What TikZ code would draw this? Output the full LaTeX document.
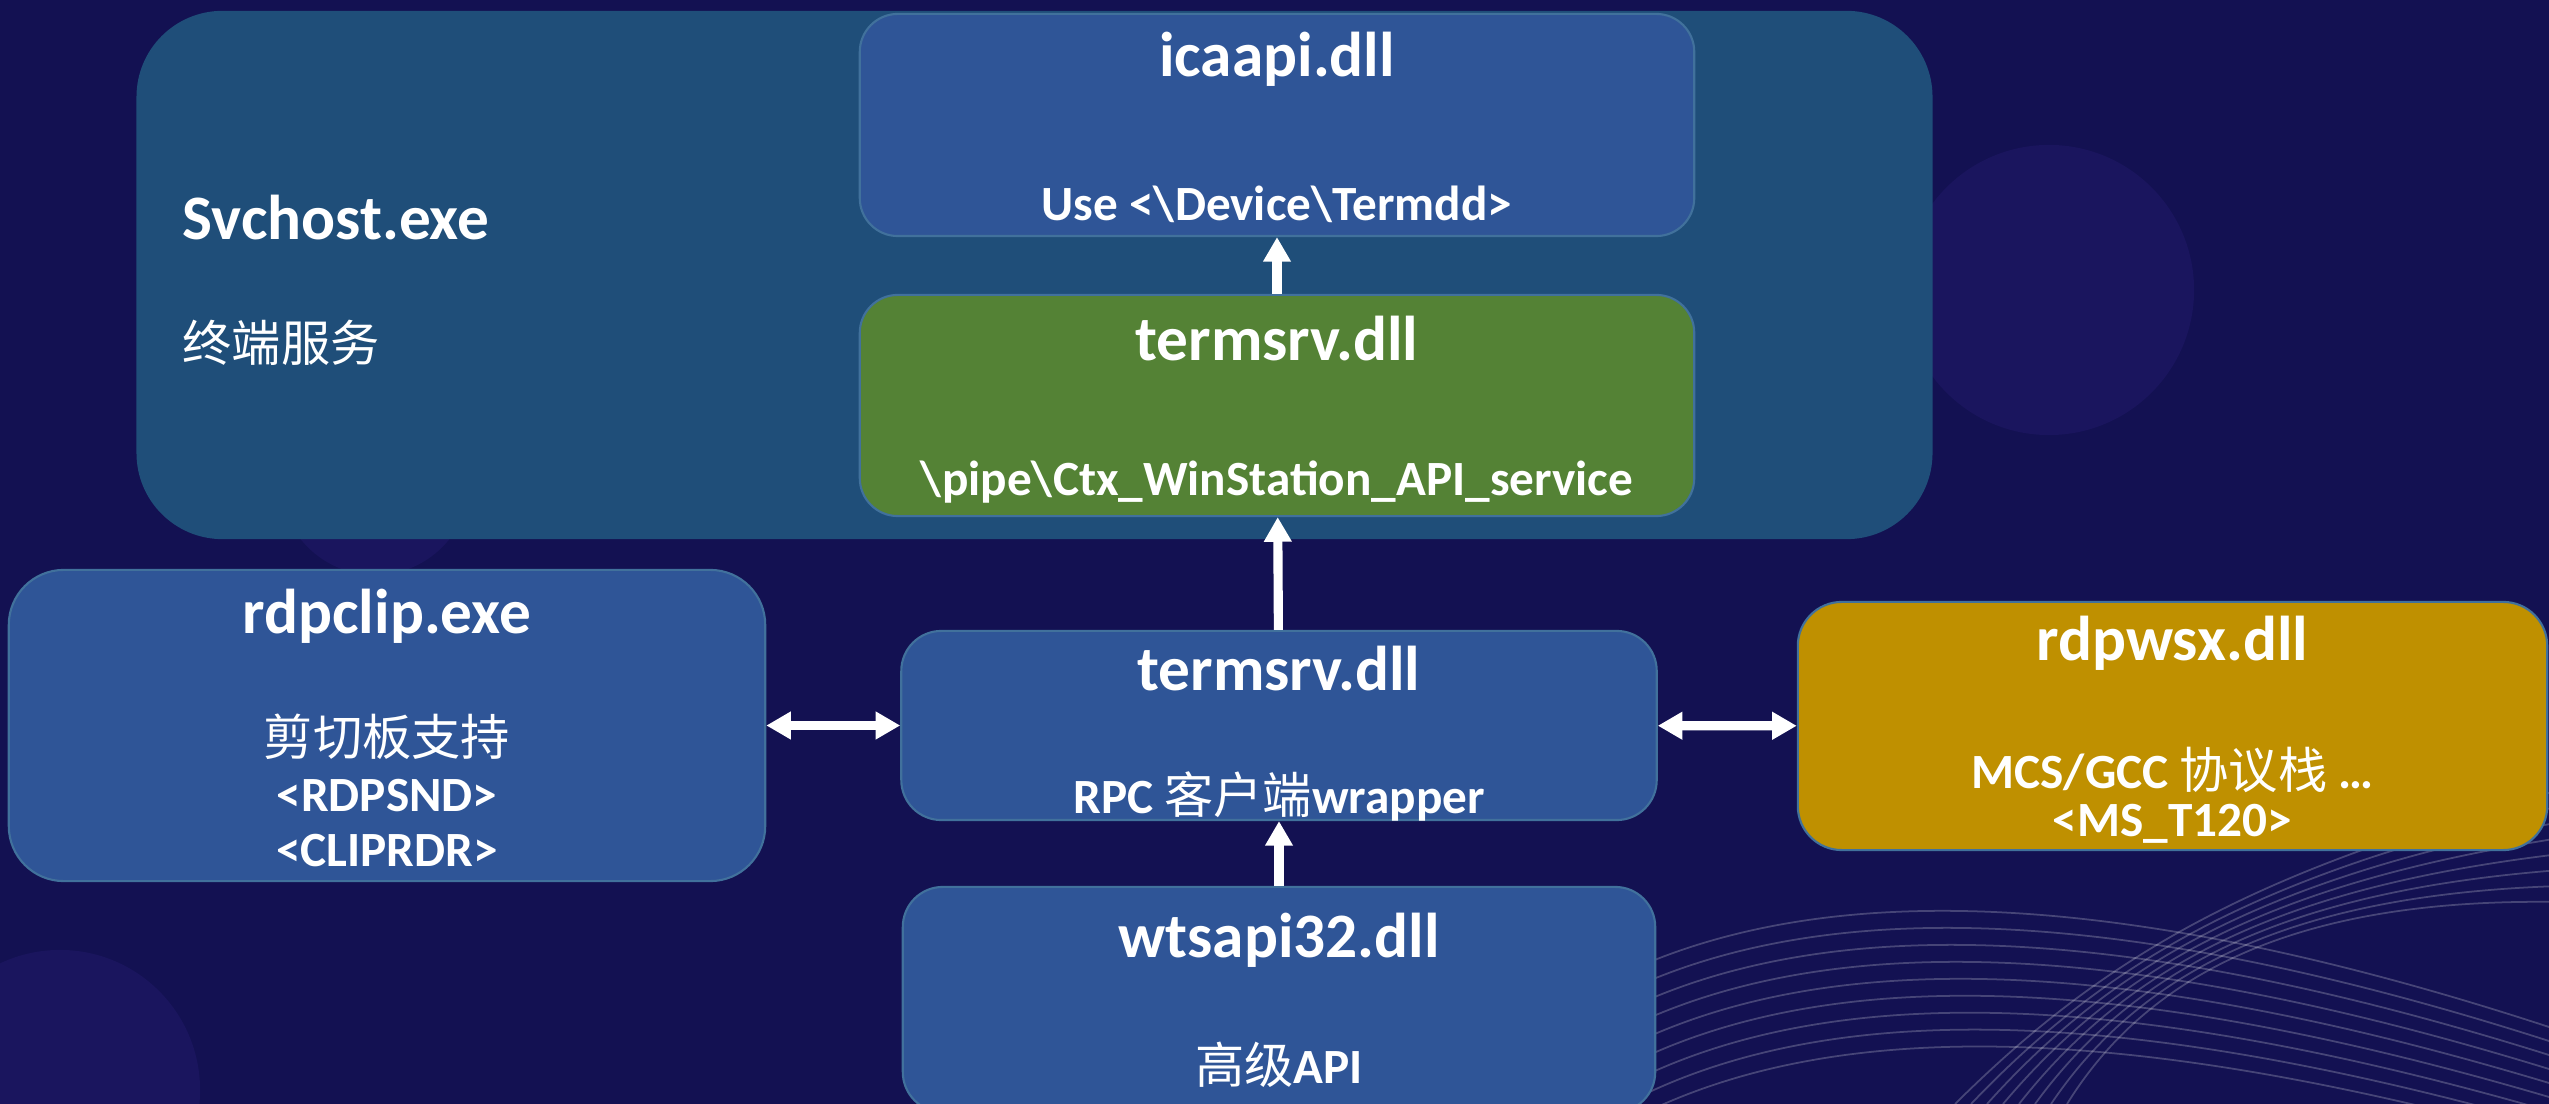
\documentclass[tikz,border=0pt]{standalone}
\usepackage{fontspec}
\setmainfont{Carlito}
\newfontfamily\cjk{Noto Sans CJK SC}
\newcommand\hanzi[1]{{\cjk\mdseries #1}}
\usetikzlibrary{arrows.meta}
\definecolor{bgcol}{RGB}{19,17,82}
\definecolor{glowcol}{RGB}{26,21,94}
\definecolor{svccol}{RGB}{31,78,121}
\definecolor{bluecol}{RGB}{47,85,151}
\definecolor{greencol}{RGB}{84,130,53}
\definecolor{goldcol}{RGB}{191,144,0}
\definecolor{boxline}{RGB}{65,113,156}
\tikzstyle{every picture} = [x=0.01cm, y=-0.01cm]
\tikzstyle{box} = [rectangle, draw=boxline, line width=0.6pt, inner sep=0pt]
\tikzstyle{title} = [text=white, inner sep=0pt, font=\fontsize{18}{22}\selectfont\bfseries]
\tikzstyle{sub} = [text=white, inner sep=0pt, font=\fontsize{14}{17}\selectfont\bfseries]
\tikzstyle{arr} = [draw=white, line width=2.6pt, -{Triangle[width=7.5pt,length=7pt]}]
\tikzstyle{darr} = [draw=white, line width=2.6pt, {Triangle[width=7.5pt,length=7pt]}-{Triangle[width=7.5pt,length=7pt]}]
\tikzstyle{wave} = [draw=white, opacity=0.22, line width=0.5pt]

\begin{document}
\begin{tikzpicture}
            \useasboundingbox (0,0) rectangle (2549,1104);
            \fill[bgcol] (0,0) rectangle (2549,1104);
            % background glows and waves
            \fill[glowcol] (2049,290) circle (1.45cm);
            \fill[glowcol] (375,480) circle (0.95cm);
            \fill[glowcol] (60,1090) circle (1.4cm);
            \foreach \i in {0,...,8}
                \draw[wave] (1600,{985+19*\i}) .. controls (1800,{880+17*\i}) and (2100,{880+17*\i}) .. (2549,{1027+14*\i});
            \foreach \i in {0,...,7}
                \draw[wave] ({1955+16*\i},1104) .. controls ({2100+8*\i},960) and ({2250+10*\i},{870+4*\i}) .. (2560,{790+16*\i});

            \node (node svchost) at (1034.5,275) [box, draw=none, fill=svccol, minimum width=17.95cm, minimum height=5.28cm, rounded corners=0.86cm] {};
            \node (node icaapi) at (1277,125) [box, fill=bluecol, minimum width=8.34cm, minimum height=2.22cm, rounded corners=0.38cm] {};
            \node (node green) at (1277,405.5) [box, fill=greencol, minimum width=8.34cm, minimum height=2.21cm, rounded corners=0.38cm] {};
            \node (node rpc) at (1279,725.5) [box, fill=bluecol, minimum width=7.55cm, minimum height=1.89cm, rounded corners=0.40cm] {};
            \node (node wtsapi) at (1279,999.5) [box, fill=bluecol, minimum width=7.52cm, minimum height=2.25cm, rounded corners=0.40cm] {};
            \node (node rdpclip) at (387,725.5) [box, fill=bluecol, minimum width=7.56cm, minimum height=3.11cm, rounded corners=0.55cm] {};
            \node (node rdpwsx) at (2172.5,726) [box, fill=goldcol, minimum width=7.49cm, minimum height=2.48cm, rounded corners=0.44cm] {};

            \node (title svchost) at (182,218) [title, anchor=west] {Svchost.exe};
            \node (sub svchost) at (182,343) [sub, anchor=west] {\hanzi{终端服务}};
            \node (title icaapi) at (1277,59) [title] {icaapi.dll};
            \node (sub icaapi) at (1277,204) [sub] {Use <\textbackslash Device\textbackslash Termdd>};
            \node (title green) at (1277,339) [title] {termsrv.dll};
            \node (sub green) at (1277,482) [sub] {\textbackslash pipe\textbackslash Ctx\_WinStation\_API\_service};
            \node (title rpc) at (1279,669) [title] {termsrv.dll};
            \node (sub rpc) at (1279,796) [sub] {RPC \hanzi{客户端}wrapper};
            \node (title wtsapi) at (1279,940) [title] {wtsapi32.dll};
            \node (sub wtsapi) at (1279,1065) [sub] {\hanzi{高级}API};
            \node (title rdpclip) at (387,616) [title] {rdpclip.exe};
            \node (sub rdpclip 1) at (387,737) [sub] {\hanzi{剪切板支持}};
            \node (sub rdpclip 2) at (387,796) [sub] {<RDPSND>};
            \node (sub rdpclip 3) at (387,851) [sub] {<CLIPRDR>};
            \node (title rdpwsx) at (2172.5,643) [title] {rdpwsx.dll};
            \node (sub rdpwsx 1) at (2172.5,770) [sub] {MCS/GCC \hanzi{协议栈} …};
            \node (sub rdpwsx 2) at (2172.5,824) [sub] {<MS\_T120>};

            \path   (node green) edge[arr] (node icaapi)
                    (node rpc) edge[arr] (node green)
                    (node wtsapi) edge[arr] (node rpc)
                    (node rpc) edge[darr] (node rdpclip)
                    (node rpc) edge[darr] (node rdpwsx);
\end{tikzpicture}
\end{document}
